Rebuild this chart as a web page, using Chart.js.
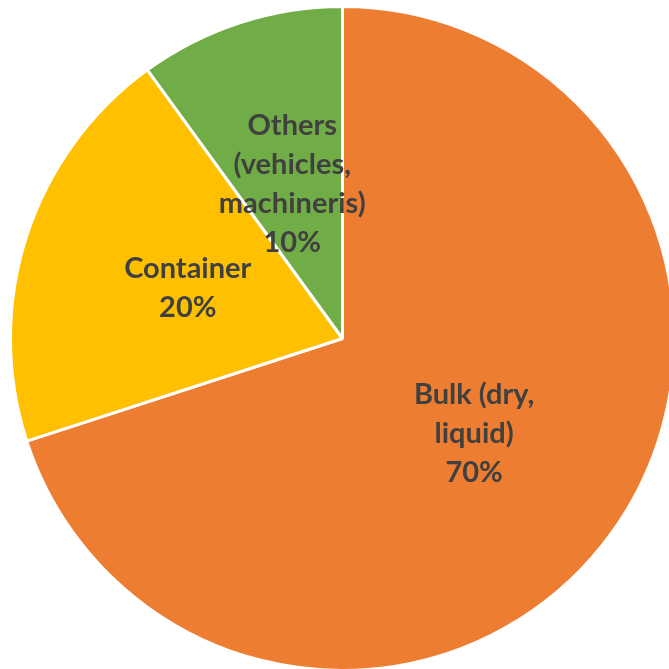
<!DOCTYPE html>
<html>
<head>
<meta charset="utf-8">
<script src="https://cdn.jsdelivr.net/npm/chart.js@4.4.0/dist/chart.umd.min.js"></script>
<style>
  html, body { margin: 0; padding: 0; background: #fff; overflow: hidden; }
  .wrap { position: absolute; left: 9px; top: 5px; width: 667px; height: 667px; }
</style>
</head>
<body>
<div class="wrap"><canvas id="pie"></canvas></div>
<script>
const categories = ['Bulk (dry, liquid)', 'Container', 'Others (vehicles, machineris)'];
const labelLines = [['Bulk (dry,', 'liquid)'], ['Container'], ['Others', '(vehicles,', 'machineris)']];
const shares = [70, 20, 10];
const colors = ['#ED7D31', '#FFC000', '#70AD47'];

// draws the text inside each slice, like excel data labels
const sliceLabels = {
  id: 'sliceLabels',
  afterDatasetsDraw(chart) {
    const ctx = chart.ctx;
    const meta = chart.getDatasetMeta(0);
    const total = shares.reduce((a, b) => a + b, 0);
    ctx.save();
    ctx.font = 'bold 29px Lato';
    ctx.fillStyle = '#404040';
    ctx.textAlign = 'center';
    ctx.textBaseline = 'middle';
    meta.data.forEach((arc, i) => {
      const p = arc.getProps(['x', 'y', 'startAngle', 'endAngle', 'outerRadius']);
      const mid = (p.startAngle + p.endAngle) / 2;
      const r = p.outerRadius * 0.49;
      const cx = p.x + Math.cos(mid) * r;
      const cy = p.y + Math.sin(mid) * r;
      const lines = labelLines[i].concat([Math.round(shares[i] / total * 100) + '%']);
      const lh = 39;
      const y0 = cy - (lines.length - 1) * lh / 2;
      lines.forEach((t, j) => ctx.fillText(t, cx, y0 + j * lh));
    });
    ctx.restore();
  }
};

new Chart(document.getElementById('pie'), {
  type: 'pie',
  data: {
    labels: categories,
    datasets: [{
      data: shares,
      backgroundColor: colors,
      borderColor: '#fff',
      borderWidth: 3
    }]
  },
  options: {
    responsive: true,
    maintainAspectRatio: false,
    animation: false,
    layout: { padding: 0 },
    plugins: {
      legend: { display: false },
      tooltip: { enabled: false }
    }
  },
  plugins: [sliceLabels]
});
</script>
</body>
</html>
